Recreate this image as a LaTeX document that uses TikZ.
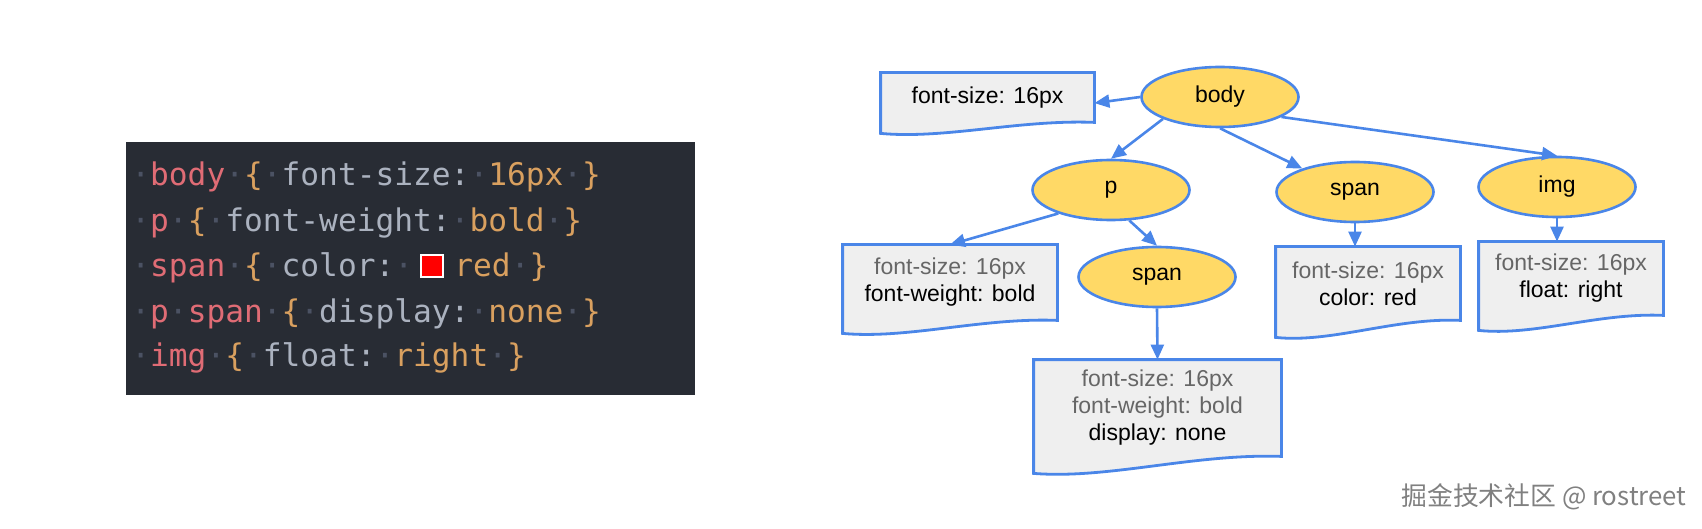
\documentclass[tikz,border=0pt]{standalone}
\usepackage{fontspec}
\setmainfont{Liberation Sans}
\newfontfamily\codefont{DejaVu Sans Mono}
\newfontfamily\cjkfont{Noto Sans CJK SC}
\usetikzlibrary{arrows.meta}
\usetikzlibrary{shapes.geometric}
\usetikzlibrary{calc}
\usetikzlibrary{backgrounds}

\definecolor{codebg}{HTML}{282C34}
\definecolor{codesel}{HTML}{E06C75}
\definecolor{codeval}{HTML}{D9A05F}
\definecolor{codeprop}{HTML}{ABB2BF}
\definecolor{codedot}{HTML}{4B5263}
\definecolor{nodefill}{HTML}{FFD966}
\definecolor{nodeline}{HTML}{4A86E8}
\definecolor{boxfill}{HTML}{EFEFEF}
\definecolor{inherit}{HTML}{666666}

\newcommand{\spc}{\textcolor{codedot}{·}}
\newcommand{\csel}[1]{\textcolor{codesel}{#1}}
\newcommand{\cval}[1]{\textcolor{codeval}{#1}}
\newcommand{\cprop}[1]{\textcolor{codeprop}{#1}}
\newcommand{\inh}[1]{\textcolor{inherit}{#1}}

% wavy bottom box drawn round a named node
\newcommand{\docpath}[2]{%
  \filldraw[docline] (#1.south east) -- (#1.north east) -- (#1.north west) -- ($(#1.south west)+(0,#2)$)
    .. controls ($(#1.south west)!0.3!(#1.south east)+(0,#2+6)$) and ($(#1.south west)!0.65!(#1.south east)+(0,-3)$) .. (#1.south east) -- cycle;}

\begin{document}
\begin{tikzpicture}[x=0.5pt,y=-0.5pt,
    codeline/.style={anchor=base west, inner sep=0pt, font=\codefont\fontsize{15.6}{18}\selectfont},
    elem/.style={ellipse, draw=nodeline, fill=nodefill, line width=1.3pt, inner sep=0pt,
      minimum width=78.5pt, minimum height=30pt, font=\fontsize{11.5}{13.5}\selectfont},
    docbox/.style={rectangle, inner sep=0pt, align=center, font=\fontsize{11.5}{13.5}\selectfont},
    docline/.style={draw=nodeline, fill=boxfill, line width=1.4pt},
    arr/.style={draw=nodeline, line width=1.3pt, -{Triangle[length=7.5pt,width=6.5pt]}}]
  \useasboundingbox (0,0) rectangle (1702,529);

  % css source
  \fill[codebg] (126,142) rectangle (695,395);
  \node[codeline] (line1) at (131,186) {\spc\csel{body}\spc\cval{\{}\spc\cprop{font-size:}\spc\cval{16px}\spc\cval{\}}};
  \node[codeline] (line2) at (131,231.5) {\spc\csel{p}\spc\cval{\{}\spc\cprop{font-weight:}\spc\cval{bold}\spc\cval{\}}};
  \node[codeline] (line3) at (131,276.5) {\spc\csel{span}\spc\cval{\{}\spc\cprop{color:}\spc};
  \node[draw=white, fill=red, line width=1.2pt, minimum size=11pt, inner sep=0pt] (swatch) at (432,266) {};
  \node[codeline] (line3b) at (454,276.5) {\cval{red}\spc\cval{\}}};
  \node[codeline] (line4) at (131,322) {\spc\csel{p}\spc\csel{span}\spc\cval{\{}\spc\cprop{display:}\spc\cval{none}\spc\cval{\}}};
  \node[codeline] (line5) at (131,366.5) {\spc\csel{img}\spc\cval{\{}\spc\cprop{float:}\spc\cval{right}\spc\cval{\}}};

  % tree
  \node[elem] (body) at (1220,97) {body};
  \node[elem] (p) at (1111,190) {p};
  \node[elem] (span1) at (1355,192) {span};
  \node[elem] (img) at (1557,187) {img};
  \node[elem] (span2) at (1157,277) {span};

  \node[docbox, minimum width=106.5pt, minimum height=24.5pt] (fsbox) at (987.5,97.5) {font-size: 16px};
  \node[docbox, minimum width=107pt, minimum height=37.5pt] (pbox) at (950,282.5) {\inh{font-size: 16px}\\font-weight: bold};
  \node[docbox, minimum width=92pt, minimum height=36.5pt] (span1box) at (1368,283.5) {\inh{font-size: 16px}\\color: red};
  \node[docbox, minimum width=92pt, minimum height=36.5pt] (imgbox) at (1571,278.5) {\inh{font-size: 16px}\\float: right};
  \node[docbox, minimum width=123.5pt, minimum height=48pt] (span2box) at (1157.5,408) {\inh{font-size: 16px}\\\inh{font-weight: bold}\\display: none};

  \begin{scope}[on background layer]
    \docpath{fsbox}{11}
    \docpath{pbox}{13}
    \docpath{span1box}{17}
    \docpath{imgbox}{15}
    \docpath{span2box}{17}
  \end{scope}

  \draw[arr] (body.west) -- (fsbox.-3);
  \draw[arr] (body.201) -- (p.north);
  \draw[arr] (body.south) -- (span1.156);
  \draw[arr] (body.-18) -- (img.north);
  \draw[arr] (p.204) -- (pbox.north);
  \draw[arr] (p.-59) -- (span2.north);
  \draw[arr] (span2.south) -- (span2box.north);
  \draw[arr] (span1.south) -- (span1.south |- span1box.north);
  \draw[arr] (img.south) -- (img.south |- imgbox.north);

  \node[text=black!50, font=\cjkfont\fontsize{12.9}{15}\selectfont] (mark) at (1544,497) {掘金技术社区 @ rostreet};
\end{tikzpicture}
\end{document}
